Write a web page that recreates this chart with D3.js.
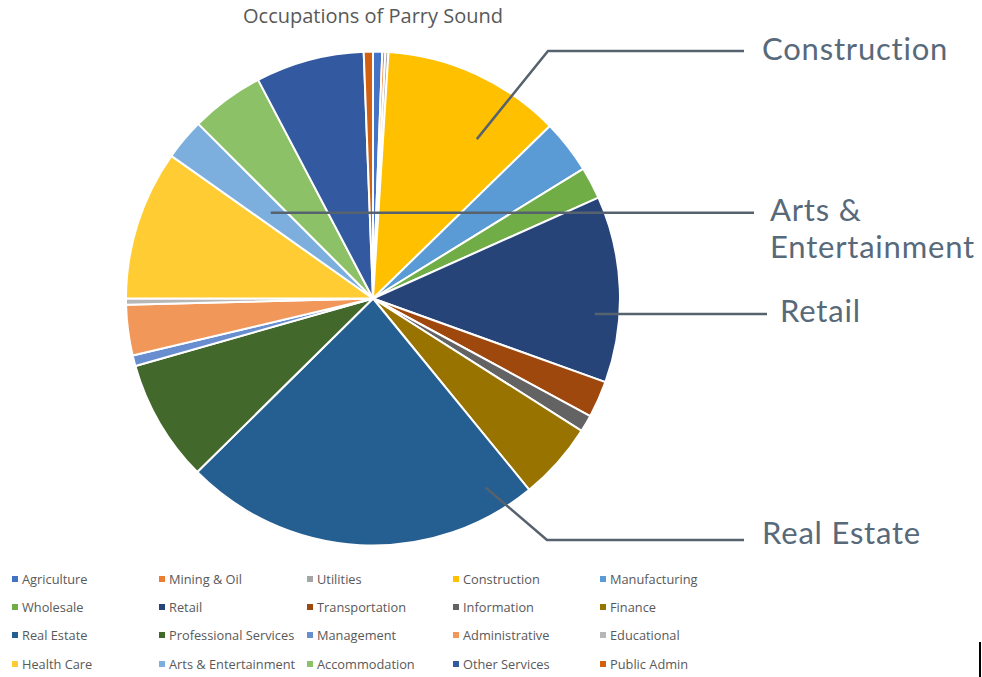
<!DOCTYPE html>
<html>
<head>
<meta charset="utf-8">
<script src="https://cdn.jsdelivr.net/npm/d3@7"></script>
<style>
  html, body { margin: 0; padding: 0; background: #fff; }
  svg { display: block; }
</style>
</head>
<body>
<svg id="chart" width="982" height="677"></svg>
<script>
// Occupation categories and their share of the workforce (%)
const categories = [
  "Agriculture", "Mining & Oil", "Utilities", "Construction", "Manufacturing",
  "Wholesale", "Retail", "Transportation", "Information", "Finance",
  "Real Estate", "Professional Services", "Management", "Administrative", "Educational",
  "Health Care", "Arts & Entertainment", "Accommodation", "Other Services", "Public Admin"
];
const shares = [
  0.6, 0.2, 0.2, 11.7, 3.5,
  2.1, 12.2, 2.4, 1.1, 5.1,
  23.5, 8.0, 0.7, 3.3, 0.4,
  9.8, 2.7, 4.8, 7.1, 0.6
];
const colors = [
  "#4472C4", "#ED7D31", "#A5A5A5", "#FFC000", "#5B9BD5",
  "#70AD47", "#264478", "#9E480E", "#636363", "#997300",
  "#255E91", "#43682B", "#698ED0", "#F1975A", "#B7B7B7",
  "#FFCD33", "#7CAFDD", "#8CC168", "#335AA1", "#D26012"
];
const title = "Occupations of Parry Sound";

// Callouts: which slice, where inside it the leader starts, and the label lines
const callouts = [
  { name: "Construction", lines: ["Construction"], t: 0.70, r: 0.77, elbow: [548, 51], end: 744, textX: 762, textY: 60 },
  { name: "Arts & Entertainment", lines: ["Arts &", "Entertainment"], t: 0.48, r: 0.54, elbow: null, end: 754, textX: 770, textY: 221 },
  { name: "Retail", lines: ["Retail"], t: 0.64, r: 0.90, elbow: null, end: 767, textX: 780, textY: 322 },
  { name: "Real Estate", lines: ["Real Estate"], t: 0.10, r: 0.89, elbow: [547, 540], end: 744, textX: 762, textY: 544 }
];

const svg = d3.select("#chart");
const cx = 373, cy = 298.5, radius = 247;

svg.append("text")
  .attr("x", cx).attr("y", 23)
  .attr("text-anchor", "middle")
  .attr("font-family", "'Open Sans', sans-serif")
  .attr("font-size", 20)
  .attr("fill", "#595959")
  .text(title);

const data = categories.map((c, i) => ({ name: c, value: shares[i], color: colors[i] }));
const pie = d3.pie().value(d => d.value).sort(null);
const arcs = pie(data);
const arc = d3.arc().innerRadius(0).outerRadius(radius);

const g = svg.append("g").attr("transform", `translate(${cx},${cy})`);
g.selectAll("path")
  .data(arcs)
  .join("path")
  .attr("d", arc)
  .attr("fill", d => d.data.color)
  .attr("stroke", "#fff")
  .attr("stroke-width", 2)
  .attr("stroke-linejoin", "round");

// Leader lines and callout labels
const lineColor = "#56636E";
const textColor = "#58697A";
callouts.forEach(c => {
  const a = arcs.find(d => d.data.name === c.name);
  const ang = a.startAngle + c.t * (a.endAngle - a.startAngle);
  const px = cx + Math.sin(ang) * radius * c.r;
  const py = cy - Math.cos(ang) * radius * c.r;
  const pts = [[px, py]];
  if (c.elbow) pts.push(c.elbow);
  pts.push([c.end, c.elbow ? c.elbow[1] : py]);
  svg.append("path")
    .attr("d", d3.line()(pts))
    .attr("fill", "none")
    .attr("stroke", lineColor)
    .attr("stroke-width", 2.5);
  const t = svg.append("text")
    .attr("x", c.textX).attr("y", c.textY)
    .attr("font-family", "Lato, 'Open Sans', sans-serif")
    .attr("font-weight", 400)
    .attr("font-size", 31)
    .attr("letter-spacing", 0.8)
    .attr("fill", textColor);
  c.lines.forEach((ln, i) => {
    t.append("tspan").attr("x", c.textX).attr("dy", i === 0 ? 0 : 37).text(ln);
  });
});

// Legend: 5 columns x 4 rows
const colX = [12, 159, 307, 453, 600];
const rowY = [579, 607, 635, 664];
const legend = svg.append("g");
data.forEach((d, i) => {
  const x = colX[i % 5], y = rowY[Math.floor(i / 5)];
  legend.append("rect")
    .attr("x", x).attr("y", y - 3)
    .attr("width", 6).attr("height", 6)
    .attr("fill", d.color);
  legend.append("text")
    .attr("x", x + 10).attr("y", y + 4.5)
    .attr("font-family", "'Open Sans', sans-serif")
    .attr("font-size", 12.8)
    .attr("fill", "#595959")
    .text(d.name);
});

// thin dark edge mark at the lower right corner
svg.append("rect").attr("x", 979).attr("y", 642).attr("width", 2).attr("height", 35).attr("fill", "#000");
</script>
</body>
</html>
